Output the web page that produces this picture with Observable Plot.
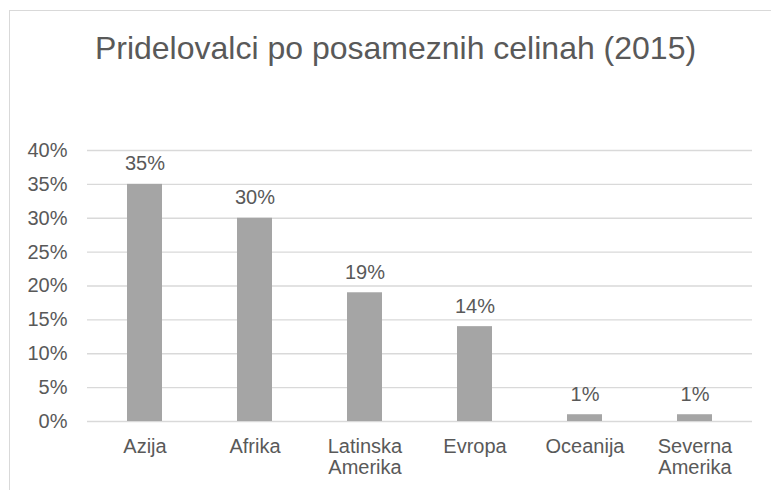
<!DOCTYPE html>
<html>
<head>
<meta charset="utf-8">
<script src="https://cdn.jsdelivr.net/npm/d3@7"></script>
<script src="https://cdn.jsdelivr.net/npm/@observablehq/plot@0.6"></script>
<style>
  html, body { margin: 0; padding: 0; background: #fff; overflow: hidden; }
  #wrap { position: relative; width: 771px; height: 490px; overflow: hidden; font-family: "Liberation Sans", Arial, sans-serif; }
  #border { position: absolute; left: 9px; top: 10px; width: 900px; height: 600px; border: 1.5px solid #d9d9d9; box-sizing: border-box; }
  #title { position: absolute; left: 0; width: 791px; top: 29px; text-align: center; font-size: 32px; color: #595959; line-height: 38px; white-space: nowrap; }
  #chart { position: absolute; left: 0; top: 0; }
</style>
</head>
<body>
<div id="wrap">
  <div id="border"></div>
  <div id="title">Pridelovalci po posameznih celinah (2015)</div>
  <div id="chart"></div>
</div>
<script>
const categories = ["Azija", "Afrika", "Latinska\nAmerika", "Evropa", "Oceanija", "Severna\nAmerika"];
const values = [0.35, 0.30, 0.19, 0.14, 0.01, 0.01];
const yTicks = [0, 0.05, 0.10, 0.15, 0.20, 0.25, 0.30, 0.35, 0.40];

const data = categories.map((c, i) => ({cat: c, v: values[i]}));
const pct = d => Math.round(d * 100) + "%";

const chart = Plot.plot({
  width: 771,
  height: 490,
  marginLeft: 87,
  marginRight: 19,
  marginTop: 150,
  marginBottom: 69,
  style: {background: "transparent", fontFamily: "'Liberation Sans', Arial, sans-serif", color: "#595959"},
  x: {domain: categories, paddingInner: 0.68, paddingOuter: 0.34, align: 0.5},
  y: {domain: [0, 0.4]},
  marks: [
    Plot.ruleY(yTicks, {stroke: "#d9d9d9", strokeWidth: 1.3}),
    Plot.barY(data, {x: "cat", y: "v", fill: "#a5a5a5"}),
    Plot.text(data, {x: "cat", y: "v", text: d => pct(d.v), lineAnchor: "bottom", dy: -14, fontSize: 20, fill: "#595959"}),
    Plot.axisY({ticks: yTicks, tickFormat: pct, tickSize: 0, tickPadding: 20, fontSize: 20, fill: "#595959", label: null}),
    Plot.axisX({tickSize: 0, tickPadding: 17, fontSize: 20, fill: "#595959", lineHeight: 1.05, label: null})
  ]
});
document.getElementById("chart").appendChild(chart);
</script>
</body>
</html>
